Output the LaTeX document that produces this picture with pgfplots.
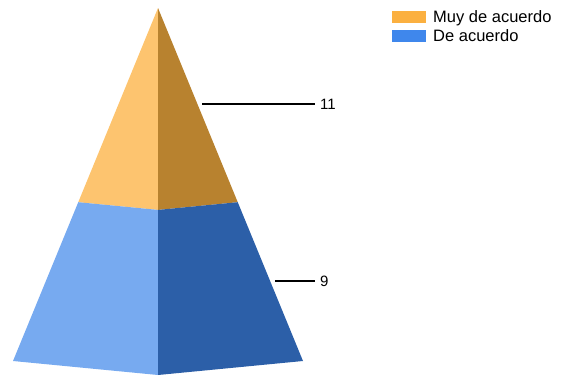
\documentclass[border=0pt]{standalone}
\usepackage{pgfplots}
\pgfplotsset{compat=1.18}
\usepackage{fontspec}
\setmainfont{Liberation Sans}
\definecolor{oLight}{HTML}{FDC46F}
\definecolor{oDark}{HTML}{B8822F}
\definecolor{bLight}{HTML}{77AAF0}
\definecolor{bDark}{HTML}{2C5FA8}
\definecolor{legO}{HTML}{FBB040}
\definecolor{legB}{HTML}{3F87EC}
\begin{document}
\begin{tikzpicture}
\begin{axis}[
  width=564pt, height=375pt, scale only axis,
  xmin=0, xmax=564, ymin=0, ymax=375, y dir=reverse,
  hide axis, clip=false,
  legend style={at={(axis cs:392,9)}, anchor=north west, draw=none, fill=none,
    font=\fontsize{16.5}{19}\selectfont, inner sep=0pt, row sep=4pt,
    nodes={inner sep=1pt}},
  legend cell align=left,
  legend image code/.code={\fill[#1, draw=none] (0pt,-6pt) rectangle (34pt,6pt); \path (40pt,0pt);},
]
% top segment: Muy de acuerdo (11)
\addplot[fill=oLight, draw=none, forget plot] coordinates {(158,8) (78.25,202.2) (158,209.9)} -- cycle;
\addplot[fill=oDark, draw=none, forget plot] coordinates {(158,8) (158,209.9) (237.75,202.2)} -- cycle;
% bottom segment: De acuerdo (9)
\addplot[fill=bLight, draw=none, forget plot] coordinates {(78.25,202.2) (13,361) (158,375) (158,209.9)} -- cycle;
\addplot[fill=bDark, draw=none, forget plot] coordinates {(158,209.9) (158,375) (303,361) (237.75,202.2)} -- cycle;
% leader lines
\addplot[black, line width=1.3pt, forget plot] coordinates {(202,104) (315,104)};
\addplot[black, line width=1.3pt, forget plot] coordinates {(275,281) (315,281)};
\node[anchor=west, font=\fontsize{15}{18}\selectfont, inner sep=0pt] at (axis cs:320,104) {11};
\node[anchor=west, font=\fontsize{15}{18}\selectfont, inner sep=0pt] at (axis cs:320,281) {9};
\addlegendimage{fill=legO, draw=none}
\addlegendentry{Muy de acuerdo}
\addlegendimage{fill=legB, draw=none}
\addlegendentry{De acuerdo}
\end{axis}
\pgfresetboundingbox
\path (current axis.south west) rectangle (current axis.north east);
\end{tikzpicture}
\end{document}
